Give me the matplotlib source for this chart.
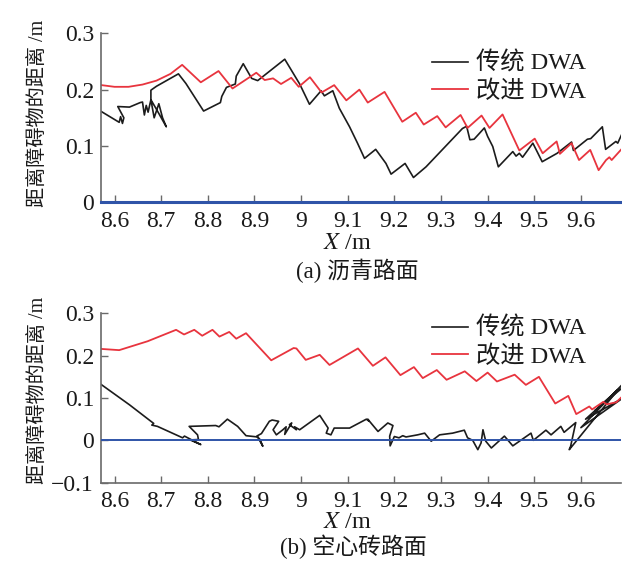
import matplotlib
matplotlib.use("Agg")
import matplotlib.pyplot as plt

plt.rcParams['font.family'] = ['Liberation Serif', 'Noto Sans CJK SC']
plt.rcParams['mathtext.fontset'] = 'stix'
plt.rcParams['axes.unicode_minus'] = True

# ---------------- data: (a) asphalt road ----------------
a_trad_x = [8.572, 8.596, 8.610, 8.613, 8.617, 8.620, 8.607, 8.632, 8.655, 8.660,
            8.664, 8.668, 8.672, 8.678, 8.685, 8.695, 8.703, 8.711, 8.690, 8.678,
            8.678, 8.690, 8.737, 8.753, 8.791, 8.827, 8.830, 8.840, 8.859, 8.861,
            8.876, 8.894, 8.907, 8.936, 8.965, 8.997, 9.018, 9.043, 9.050, 9.068,
            9.082, 9.104, 9.121, 9.136, 9.160, 9.182, 9.193, 9.223, 9.241, 9.268,
            9.346, 9.355, 9.362, 9.371, 9.393, 9.400, 9.411, 9.423, 9.454, 9.461,
            9.468, 9.475, 9.497, 9.517, 9.549, 9.580, 9.584, 9.614, 9.621, 9.646,
            9.653, 9.675, 9.679, 9.690]
a_trad_y = [0.161, 0.149, 0.142, 0.152, 0.140, 0.150, 0.170, 0.169, 0.177, 0.178,
            0.155, 0.172, 0.160, 0.182, 0.150, 0.175, 0.150, 0.134, 0.165, 0.182,
            0.199, 0.206, 0.228, 0.211, 0.162, 0.177, 0.188, 0.204, 0.210, 0.224,
            0.246, 0.220, 0.216, 0.235, 0.254, 0.210, 0.174, 0.198, 0.189, 0.198,
            0.167, 0.134, 0.105, 0.078, 0.094, 0.069, 0.050, 0.069, 0.044, 0.063,
            0.131, 0.135, 0.111, 0.112, 0.132, 0.117, 0.099, 0.063, 0.090, 0.082,
            0.087, 0.080, 0.105, 0.072, 0.087, 0.107, 0.092, 0.112, 0.113, 0.134,
            0.094, 0.108, 0.105, 0.125]

a_impr_x = [8.572, 8.600, 8.630, 8.660, 8.690, 8.720, 8.745, 8.785, 8.823, 8.853,
            8.904, 8.922, 8.940, 8.957, 8.979, 8.995, 9.019, 9.044, 9.071, 9.097,
            9.125, 9.143, 9.179, 9.217, 9.246, 9.263, 9.292, 9.310, 9.342, 9.357,
            9.387, 9.404, 9.432, 9.468, 9.501, 9.518, 9.548, 9.555, 9.580, 9.596,
            9.620, 9.638, 9.654, 9.661, 9.666, 9.690]
a_impr_y = [0.208, 0.205, 0.205, 0.209, 0.216, 0.228, 0.244, 0.213, 0.233, 0.202,
            0.230, 0.217, 0.220, 0.210, 0.221, 0.205, 0.222, 0.195, 0.208, 0.181,
            0.200, 0.177, 0.196, 0.143, 0.159, 0.138, 0.153, 0.133, 0.155, 0.132,
            0.154, 0.132, 0.156, 0.092, 0.113, 0.087, 0.108, 0.086, 0.105, 0.075,
            0.093, 0.057, 0.075, 0.080, 0.075, 0.097]

# ---------------- data: (b) hollow brick road ----------------
b_trad_x = [8.570, 8.632, 8.678, 8.684, 8.680, 8.692, 8.746, 8.750, 8.785, 8.762,
            8.780, 8.778, 8.760, 8.817, 8.824, 8.842, 8.864, 8.882, 8.907, 8.918,
            8.912, 8.905, 8.915, 8.932, 8.938, 8.952, 8.940, 8.947, 8.961, 8.968,
            8.965, 8.980, 8.975, 8.990, 8.986, 8.997, 9.040, 9.058, 9.054, 9.064,
            9.071, 9.104, 9.140, 9.146, 9.143, 9.165, 9.186, 9.197, 9.190, 9.191,
            9.200, 9.210, 9.218, 9.225, 9.250, 9.265, 9.279, 9.297, 9.325, 9.350,
            9.357, 9.368, 9.379, 9.386, 9.390, 9.396, 9.408, 9.436, 9.454, 9.493,
            9.498, 9.525, 9.536, 9.557, 9.564, 9.589, 9.578, 9.575, 9.688, 9.600,
            9.690, 9.610, 9.680, 9.630, 9.690]
b_trad_y = [0.133, 0.084, 0.045, 0.040, 0.036, 0.033, 0.006, 0.010, -0.010, 0.001,
            0.002, 0.013, 0.033, 0.035, 0.032, 0.050, 0.033, 0.011, 0.008, -0.014,
            0.002, 0.010, 0.016, 0.045, 0.048, 0.045, 0.025, 0.013, 0.025, 0.032,
            0.014, 0.041, 0.037, 0.025, 0.032, 0.025, 0.059, 0.029, 0.017, 0.013,
            0.029, 0.029, 0.050, 0.045, 0.050, 0.021, 0.041, 0.035, 0.010, -0.013,
            0.009, 0.006, 0.011, 0.008, 0.013, 0.017, -0.002, 0.013, 0.017, 0.024,
            0.006, 0.000, -0.022, -0.006, 0.025, -0.002, -0.018, 0.010, -0.013, 0.017,
            0.000, 0.024, 0.013, 0.033, 0.019, 0.042, -0.014, -0.022, 0.131, 0.030,
            0.100, 0.050, 0.120, 0.070, 0.125]

b_impr_x = [8.570, 8.610, 8.671, 8.732, 8.749, 8.771, 8.788, 8.810, 8.825, 8.846,
            8.861, 8.882, 8.936, 8.984, 8.990, 9.010, 9.025, 9.040, 9.061, 9.122,
            9.154, 9.181, 9.213, 9.242, 9.261, 9.291, 9.312, 9.351, 9.376, 9.400,
            9.420, 9.458, 9.482, 9.510, 9.545, 9.573, 9.590, 9.618, 9.624, 9.648,
            9.655, 9.676, 9.690]
b_impr_y = [0.216, 0.213, 0.234, 0.261, 0.250, 0.261, 0.247, 0.261, 0.245, 0.256,
            0.240, 0.253, 0.189, 0.218, 0.217, 0.190, 0.196, 0.202, 0.178, 0.217,
            0.176, 0.196, 0.154, 0.173, 0.147, 0.166, 0.143, 0.163, 0.140, 0.160,
            0.139, 0.155, 0.131, 0.150, 0.087, 0.105, 0.062, 0.080, 0.073, 0.091,
            0.085, 0.090, 0.105]

x_ticks = [8.6, 8.7, 8.8, 8.9, 9.0, 9.1, 9.2, 9.3, 9.4, 9.5, 9.6]
x_ticklabels = ['8.6', '8.7', '8.8', '8.9', '9', '9.1', '9.2', '9.3', '9.4', '9.5', '9.6']
a_yticks = [0, 0.1, 0.2, 0.3]
a_yticklabels = ['0', '0.1', '0.2', '0.3']
b_yticks = [-0.1, 0, 0.1, 0.2, 0.3]
b_yticklabels = ['\u22120.1', '0', '0.1', '0.2', '0.3']
legend_labels = ['传统 DWA', '改进 DWA']
ylabel_text = '距离障碍物的距离 /m'
xlabel_text = '$X$ /m'
caption_a = '(a) 沥青路面'
caption_b = '(b) 空心砖路面'

BLACK = '#1c1c1c'
RED = '#e8343e'
BLUE = '#2f54a8'
GRAY = '#6a6a6a'

W, H = 622, 562
fig = plt.figure(figsize=(W / 100, H / 100), dpi=100)

def px_axes(left, top, right, bottom):
    return fig.add_axes([left / W, 1 - bottom / H, (right - left) / W, (bottom - top) / H])

axA = px_axes(101, 33.3, 621, 202.3)
axB = px_axes(101, 313.3, 621, 482.7)

def style(ax, yticks, yticklabels, ylim):
    ax.set_xlim(8.571, 9.686)
    ax.set_ylim(*ylim)
    for s in ('top', 'right'):
        ax.spines[s].set_visible(False)
    for s in ('left', 'bottom'):
        ax.spines[s].set_color(GRAY)
        ax.spines[s].set_linewidth(1.2)
    ax.set_xticks(x_ticks)
    ax.set_xticklabels(x_ticklabels)
    ax.set_yticks(yticks)
    ax.set_yticklabels(yticklabels)
    ax.tick_params(direction='in', length=5, width=1, color=GRAY,
                   labelsize=17, labelcolor='#1a1a1a')
    ax.tick_params(axis='x', pad=6)
    ax.tick_params(axis='y', pad=5)

style(axA, a_yticks, a_yticklabels, (0, 0.3))
style(axB, b_yticks, b_yticklabels, (-0.1, 0.3))

axA.plot(a_trad_x, a_trad_y, color=BLACK, lw=1.2, label=legend_labels[0])
axA.plot(a_impr_x, a_impr_y, color=RED, lw=1.3, label=legend_labels[1])
axA.axhline(0, color=BLUE, lw=2.2, clip_on=False, zorder=5)

axB.plot(b_trad_x, b_trad_y, color=BLACK, lw=1.2, label=legend_labels[0])
axB.plot(b_impr_x, b_impr_y, color=RED, lw=1.3, label=legend_labels[1])
axB.axhline(0, color=BLUE, lw=1.4, zorder=5)

for ax, top_px in ((axA, 52), (axB, 317)):
    leg = ax.legend(loc='upper left', frameon=False, fontsize=17.5,
                    handlelength=1.5, handletextpad=0.3, labelspacing=0.22,
                    borderpad=0, borderaxespad=0,
                    bbox_to_anchor=(432 / W, 1 - top_px / H),
                    bbox_transform=fig.transFigure)
    for t in leg.get_texts():
        t.set_color('#1a1a1a')

# y labels
fig.text(38 / W, 1 - 113 / H, ylabel_text, rotation=90, ha='center', va='center',
         fontsize=14.5, color='#1a1a1a')
fig.text(38 / W, 1 - 390 / H, ylabel_text, rotation=90, ha='center', va='center',
         fontsize=14.5, color='#1a1a1a')

# x labels and captions
fig.text(347 / W, 1 - 244 / H, xlabel_text, ha='center', va='center', fontsize=17.5, color='#1a1a1a')
fig.text(357 / W, 1 - 271 / H, caption_a, ha='center', va='center', fontsize=16.5, color='#1a1a1a')
fig.text(347 / W, 1 - 523 / H, xlabel_text, ha='center', va='center', fontsize=17.5, color='#1a1a1a')
fig.text(353 / W, 1 - 547 / H, caption_b, ha='center', va='center', fontsize=16.5, color='#1a1a1a')

fig.savefig('out.png', dpi=100)
